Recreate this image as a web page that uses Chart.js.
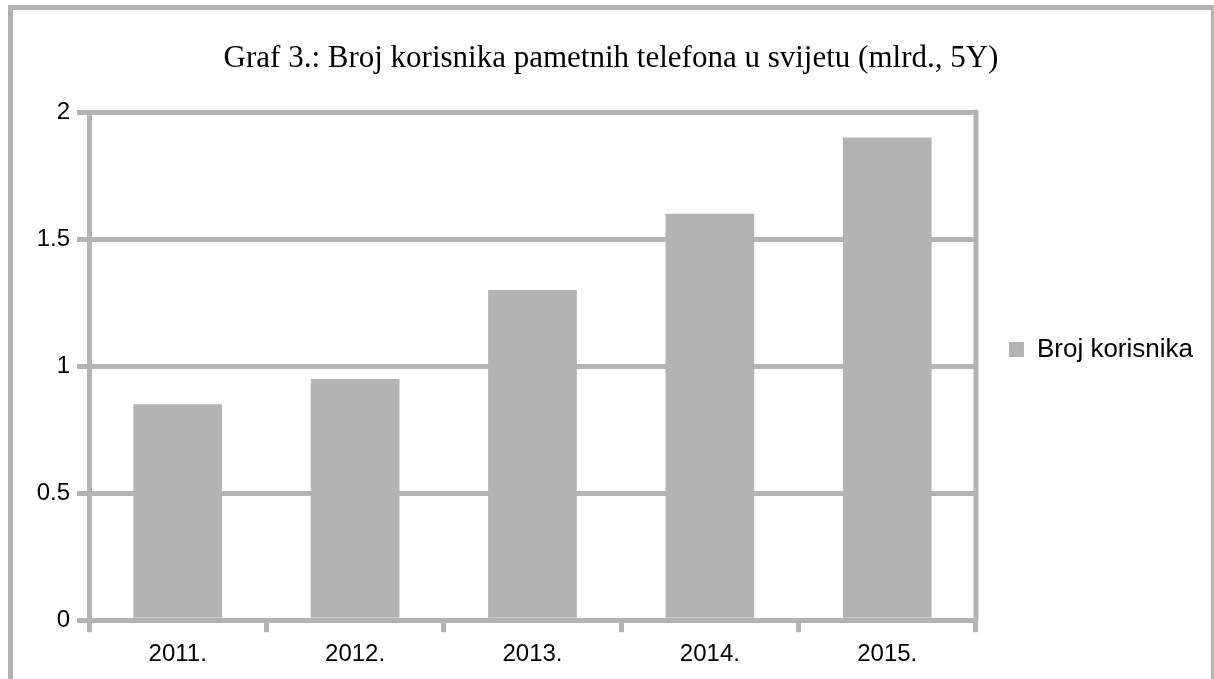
<!DOCTYPE html>
<html>
<head>
<meta charset="utf-8">
<script src="https://cdn.jsdelivr.net/npm/chart.js@4/dist/chart.umd.min.js"></script>
<style>
  html, body { margin: 0; padding: 0; background: #fff; overflow: hidden; }
  #wrap { position: relative; width: 1214px; height: 679px; overflow: hidden; }
  #frame { position: absolute; left: 8px; top: 5px; width: 1208px; height: 800px;
           box-sizing: border-box; border: 5px solid #b3b3b3; }
  #c { position: absolute; left: 0; top: 0; }
</style>
</head>
<body>
<div id="wrap">
  <div id="frame"></div>
  <canvas id="c" width="1214" height="679"></canvas>
</div>
<script>
const chartTitle = 'Graf 3.: Broj korisnika pametnih telefona u svijetu (mlrd., 5Y)';
const categories = ['2011.', '2012.', '2013.', '2014.', '2015.'];
const seriesName = 'Broj korisnika';
const seriesValues = [0.85, 0.95, 1.3, 1.6, 1.9];
const yTicks = [0, 0.5, 1, 1.5, 2];
const yTickLabels = ['0', '0.5', '1', '1.5', '2'];

const GRAY = '#b3b3b3';

const plotFrame = {
  id: 'plotFrame',
  afterLayout(chart) {
    const lg = chart.legend;
    if (lg) {
      lg.top += 11; lg.bottom += 11;
      lg.left -= 11; lg.right -= 11;
    }
  },
  afterDatasetsDraw(chart) {
    const {ctx, chartArea} = chart;
    ctx.save();
    ctx.strokeStyle = GRAY;
    ctx.lineWidth = 5;
    ctx.beginPath();
    ctx.moveTo(chartArea.right, chartArea.top - 2.5);
    ctx.lineTo(chartArea.right, chartArea.bottom);
    ctx.stroke();
    ctx.restore();
  }
};

new Chart(document.getElementById('c'), {
  type: 'bar',
  data: {
    labels: categories,
    datasets: [{
      label: seriesName,
      data: seriesValues,
      backgroundColor: GRAY,
      borderWidth: 0,
      categoryPercentage: 1.0,
      barPercentage: 0.5
    }]
  },
  options: {
    responsive: false,
    animation: false,
    devicePixelRatio: 1,
    layout: { padding: { left: 8, right: 0, top: 0, bottom: 2 } },
    plugins: {
      title: {
        display: true,
        text: chartTitle,
        color: '#000',
        font: { family: 'Liberation Serif', size: 31, weight: 'normal' },
        padding: { top: 40, bottom: 35 }
      },
      legend: {
        display: true,
        position: 'right',
        labels: {
          color: '#000',
          boxWidth: 15,
          boxHeight: 15,
          padding: 44,
          font: { family: 'Liberation Sans', size: 26 }
        }
      },
      tooltip: { enabled: false }
    },
    scales: {
      x: {
        offset: true,
        grid: { display: true, drawOnChartArea: false, drawTicks: true, tickLength: 12, lineWidth: 5, color: GRAY, offset: true },
        border: { display: true, color: GRAY, width: 5 },
        ticks: { color: '#000', padding: 8, font: { family: 'Liberation Sans', size: 24 } }
      },
      y: {
        min: 0,
        max: 2,
        afterFit(scale) { scale.width = 81; },
        afterBuildTicks(scale) { scale.ticks = yTicks.map(v => ({ value: v })); },
        grid: { color: GRAY, lineWidth: 5, tickLength: 12, drawTicks: true },
        border: { display: true, color: GRAY, width: 5 },
        ticks: {
          color: '#000', padding: 7, font: { family: 'Liberation Sans', size: 24 },
          callback: (value, index) => yTickLabels[index]
        }
      }
    }
  },
  plugins: [plotFrame]
});
</script>
</body>
</html>
